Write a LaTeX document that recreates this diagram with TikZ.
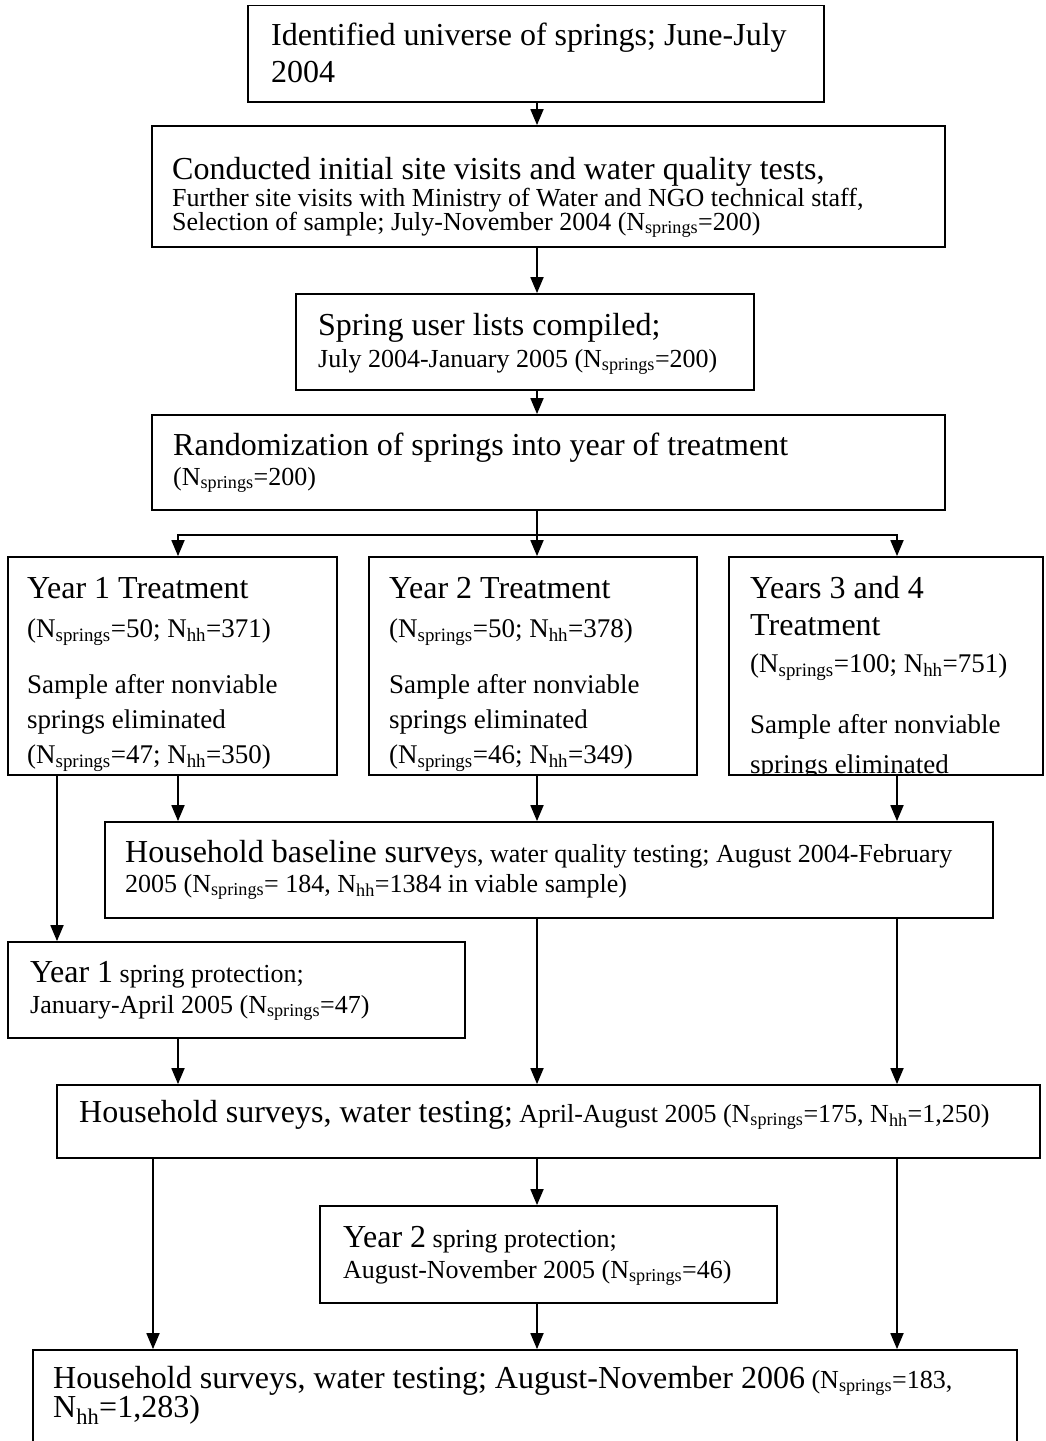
\documentclass[tikz,border=0pt]{standalone}
\usepackage{fontspec}
\setmainfont{Liberation Serif}
\usepackage{tikz}
\usetikzlibrary{arrows.meta}
\usetikzlibrary{positioning}
\newcommand{\txtL}{\fontsize{32}{37}\selectfont}
\newcommand{\txtS}{\fontsize{26}{30}\selectfont}
\newcommand{\txtM}{\fontsize{27}{31}\selectfont}
\newcommand{\topstrut}{\rule{0pt}{28pt}}
\newcommand{\Nsp}{N\textsubscript{springs}}
\newcommand{\Nhh}{N\textsubscript{hh}}
\tikzset{
flowbox/.style = { rectangle, draw = black, line width = 1.8pt, fill = none, inner sep = 0pt },
boxtext/.style = { anchor = north west, yshift = 28pt, inner sep = 0pt, align = left, font = {\txtS\lineskiplimit=-100pt\baselineskip=#1pt} },
flowarrow/.style = { line width = 1.8pt, -{Triangle[width = 13pt, length = 16pt]} },
}

\begin{document}
\begin{tikzpicture}[x = 1pt, y = -1pt]
      \useasboundingbox (0, 0) rectangle (1045, 1441);
      \clip (0, 0) rectangle (1045, 1441);
      % columns of the connectors
      \coordinate (colA) at (57, 0);
      \coordinate (colB) at (153, 0);
      \coordinate (colL) at (178, 0);
      \coordinate (colM) at (537, 0);
      \coordinate (colR) at (897, 0);
      \coordinate (split) at (537, 535);
      % boxes
      \node[flowbox, minimum width = 576, minimum height = 96.5] (ident) at (536, 53.75) {};
      \node[boxtext = 37] (ident-t) at (271, 45) {\topstrut{\txtL Identified universe of springs; June-July}\\{\txtL 2004}};
      \node[flowbox, minimum width = 793, minimum height = 121] (conduct) at (548.5, 186.5) {};
      \node[boxtext = 24] (conduct-t) at (172, 179) {\topstrut{\txtL Conducted initial site visits and water quality tests,}\\[3pt]Further site visits with Ministry of Water and NGO technical staff,\\Selection of sample; July-November 2004 (\Nsp=200)};
      \node[flowbox, minimum width = 458, minimum height = 96] (users) at (525, 342) {};
      \node[boxtext = 32] (users-t) at (318, 335) {\topstrut{\txtL Spring user lists compiled;}\\July 2004-January 2005 (\Nsp=200)};
      \node[flowbox, minimum width = 793, minimum height = 95] (rand) at (548.5, 462.5) {};
      \node[boxtext = 30] (rand-t) at (173, 455) {\topstrut{\txtL Randomization of springs into year of treatment}\\(\Nsp=200)};
      % treatment groups
      \node[flowbox, minimum width = 329, minimum height = 218] (yr1) at (172.5, 666) {};
      \node[flowbox, minimum width = 328, minimum height = 218] (yr2) at (533, 666) {};
      \node[flowbox, minimum width = 314, minimum height = 218] (yr34) at (886, 666) {};
      \begin{scope}
        \clip (yr1.north west) rectangle (yr1.south east);
        \node[boxtext = 35] (yr1-t) at (27, 598) {\topstrut{\txtL Year 1 Treatment}\\[4pt]{\txtM (\Nsp=50; \Nhh=371)}\\[21pt]{\txtM Sample after nonviable}\\{\txtM springs eliminated}\\{\txtM (\Nsp=47; \Nhh=350)}};
      \end{scope}
      \begin{scope}
        \clip (yr2.north west) rectangle (yr2.south east);
        \node[boxtext = 35] (yr2-t) at (389, 598) {\topstrut{\txtL Year 2 Treatment}\\[4pt]{\txtM (\Nsp=50; \Nhh=378)}\\[21pt]{\txtM Sample after nonviable}\\{\txtM springs eliminated}\\{\txtM (\Nsp=46; \Nhh=349)}};
      \end{scope}
      \begin{scope}
        \clip (yr34.north west) rectangle (yr34.south east);
        \node[boxtext = 35] (yr34-t) at (750, 598) {\topstrut{\txtL Years 3 and 4}\\[2pt]{\txtL Treatment}\\[2pt]{\txtM (\Nsp=100; \Nhh=751)}\\[26pt]{\txtM Sample after nonviable}\\[5pt]{\txtM springs eliminated}};
      \end{scope}
      % surveys and protection
      \node[flowbox, minimum width = 888, minimum height = 96] (base) at (549, 870) {};
      \node[boxtext = 30] (base-t) at (125, 862) {\topstrut{\txtL Household baseline surve}ys, water quality testing; August 2004-February\\2005 (\Nsp= 184, \Nhh=1384 in viable sample)};
      \node[flowbox, minimum width = 457, minimum height = 96] (prot1) at (236.5, 990) {};
      \node[boxtext = 31] (prot1-t) at (30, 982) {\topstrut{\txtL Year 1} spring protection;\\January-April 2005 (\Nsp=47)};
      \node[flowbox, minimum width = 983, minimum height = 73] (survA) at (548.5, 1121.5) {};
      \node[boxtext = 30] (survA-t) at (79, 1122) {\topstrut{\txtL Household surveys, water testing;} April-August 2005 (\Nsp=175, \Nhh=1,250)};
      \node[flowbox, minimum width = 457, minimum height = 97] (prot2) at (548.5, 1254.5) {};
      \node[boxtext = 31] (prot2-t) at (343, 1247) {\topstrut{\txtL Year 2} spring protection;\\August-November 2005 (\Nsp=46)};
      \node[flowbox, minimum width = 984, minimum height = 120] (survB) at (525, 1410) {};
      \node[boxtext = 29] (survB-t) at (53, 1388) {\topstrut{\txtL Household surveys, water testing; August-November 2006} (\Nsp=183,\\{\txtL \Nhh=1,283)}};
      % connectors
      \draw[flowarrow] (colM |- ident.south) -- (colM |- conduct.north);
      \draw[flowarrow] (colM |- conduct.south) -- (colM |- users.north);
      \draw[flowarrow] (colM |- users.south) -- (colM |- rand.north);
      \draw[flowarrow] (colM |- rand.south) -- (colM |- yr2.north);
      \draw[flowarrow] (split) -| (colL |- yr1.north);
      \draw[flowarrow] (split) -| (colR |- yr34.north);
      \draw[flowarrow] (colA |- yr1.south) -- (colA |- prot1.north);
      \draw[flowarrow] (colL |- yr1.south) -- (colL |- base.north);
      \draw[flowarrow] (colM |- yr2.south) -- (colM |- base.north);
      \draw[flowarrow] (colR |- yr34.south) -- (colR |- base.north);
      \draw[flowarrow] (colL |- prot1.south) -- (colL |- survA.north);
      \draw[flowarrow] (colM |- base.south) -- (colM |- survA.north);
      \draw[flowarrow] (colR |- base.south) -- (colR |- survA.north);
      \draw[flowarrow] (colB |- survA.south) -- (colB |- survB.north);
      \draw[flowarrow] (colM |- survA.south) -- (colM |- prot2.north);
      \draw[flowarrow] (colR |- survA.south) -- (colR |- survB.north);
      \draw[flowarrow] (colM |- prot2.south) -- (colM |- survB.north);
    \end{tikzpicture}
\end{document}
